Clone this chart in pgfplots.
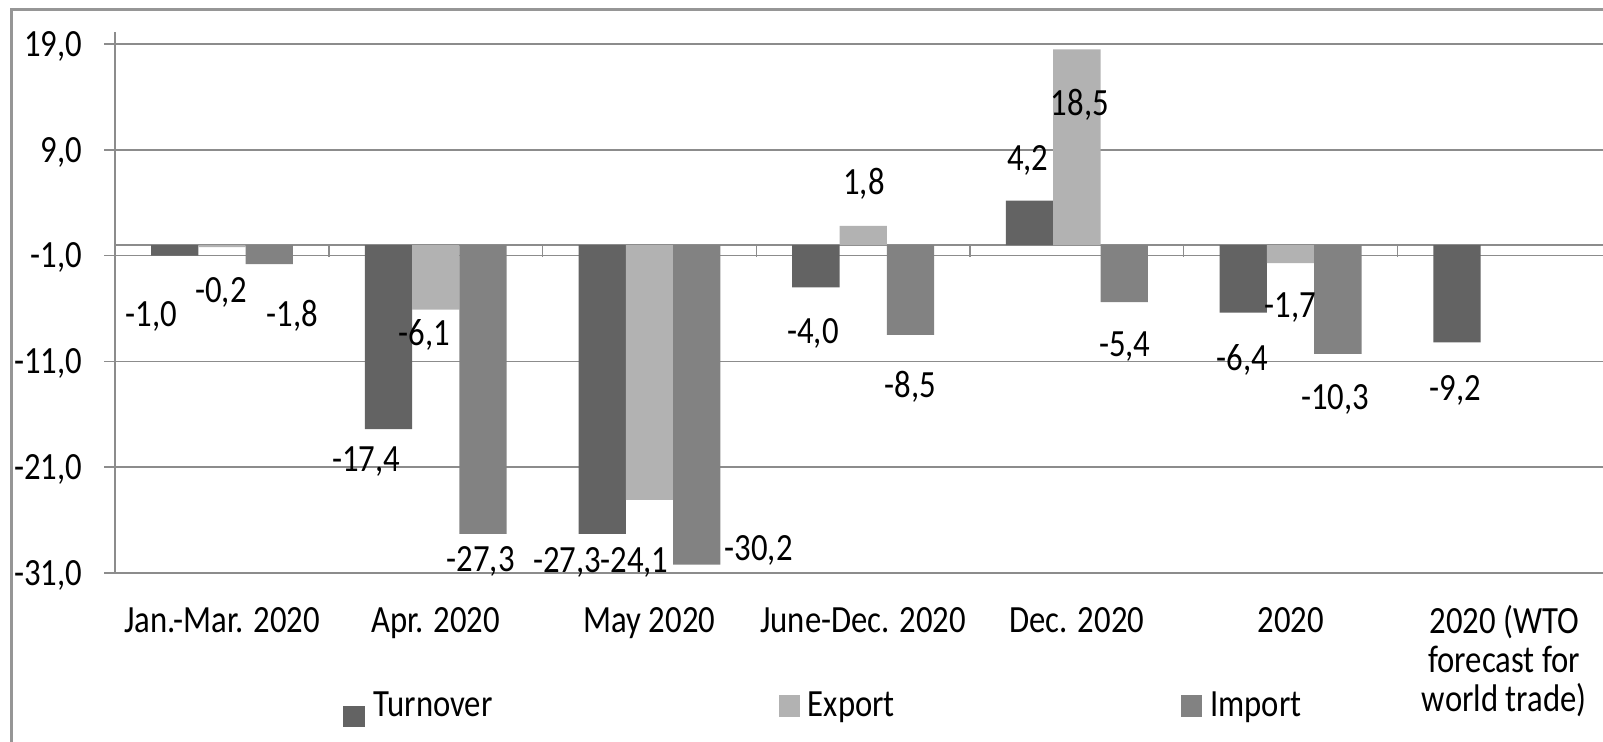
\documentclass[border=0pt]{standalone}
\usepackage{fontspec}
\setmainfont{Carlito}[FakeStretch=0.85]
\usepackage{pgfplots}
\pgfplotsset{compat=1.18}
\definecolor{turn}{RGB}{99,99,99}
\definecolor{expo}{RGB}{178,178,178}
\definecolor{impo}{RGB}{130,130,130}
\definecolor{gridc}{RGB}{140,140,140}
\definecolor{framec}{RGB}{150,150,150}
\newcommand\lf{\fontsize{19.25pt}{19.3pt}\selectfont}
\tikzset{lab/.style={font=\lf, anchor=base, inner sep=0pt, yshift=-6.1pt}}
\begin{document}
\begin{tikzpicture}
\useasboundingbox (0,0) rectangle (801.5pt,371pt);
\draw[framec, line width=1.5pt] (5.5pt,-5pt) -- (5.5pt,366pt) -- (810pt,366pt);
\begin{axis}[
  at={(57.6pt,84.5pt)}, anchor=south west,
  scale only axis, width=743.7pt, height=270.3pt,
  xmin=-0.5, xmax=6.46, ymin=-31, ymax=20.1,
  clip=false,
  ybar=0pt, bar width=0.2213,
  axis y line*=left, axis x line*=bottom,
  x axis line style={draw=none},
  y axis line style={gridc, line width=0.75pt, -},
  xtick={0,...,6},
  xticklabels={Jan.-Mar. 2020, Apr. 2020, May 2020, June-Dec. 2020, Dec. 2020, 2020, {2020 (WTO\\forecast for\\world trade)}},
  x tick style={draw=none},
  ytick={-31,-21,-11,-1,9,19},
  yticklabels={{-31,0},{-21,0},{-11,0},{-1,0},{9,0},{19,0}},
  y tick style={gridc, line width=0.75pt},
  tick align=outside, major tick length=5.35pt,
  ymajorgrids, grid style={gridc, line width=0.75pt},
  typeset ticklabels with strut,
  xticklabel style={font=\lf, align=center, anchor=north, inner sep=0pt, yshift=-10.8pt},
  yticklabel style={font=\lf, anchor=base east, inner sep=0pt, xshift=-10.9pt, yshift=-6.1pt},
  legend columns=3,
  legend style={at={(0.153,-0.2547)}, anchor=west, draw=none, fill=none, inner sep=0pt, font=\lf,
    nodes={inner sep=0pt, text depth=0pt, text height=11pt},
    /tikz/every even column/.append style={column sep=143pt},
    /tikz/every odd column/.append style={column sep=4.2pt}},
]
\draw[gridc, line width=0.75pt] (axis cs:-0.5,0) -- (axis cs:6.46,0);
\addplot[fill=turn, draw=none, legend image code/.code={\fill[turn] (0pt,-5.5pt) rectangle (10.5pt,5.5pt);}]
  coordinates {(0,-1.0) (1,-17.4) (2,-27.3) (3,-4.0) (4,4.2) (5,-6.4) (6,-9.2)};
\addlegendentry{Turnover}
\addplot[fill=expo, draw=none, legend image code/.code={\fill[expo] (0pt,-5.5pt) rectangle (10.5pt,5.5pt);}]
  coordinates {(0,-0.2) (1,-6.1) (2,-24.1) (3,1.8) (4,18.5) (5,-1.7)};
\addlegendentry{Export}
\addplot[fill=impo, draw=none, legend image code/.code={\fill[impo] (0pt,-5.5pt) rectangle (10.5pt,5.5pt);}]
  coordinates {(0,-1.8) (1,-27.3) (2,-30.2) (3,-8.5) (4,-5.4) (5,-10.3)};
\addlegendentry{Import}
\draw[gridc, line width=0.75pt] (axis cs:0.5,0) -- (axis cs:0.5,-1.15);
\draw[gridc, line width=0.75pt] (axis cs:1.5,0) -- (axis cs:1.5,-1.15);
\draw[gridc, line width=0.75pt] (axis cs:2.5,0) -- (axis cs:2.5,-1.15);
\draw[gridc, line width=0.75pt] (axis cs:3.5,0) -- (axis cs:3.5,-1.15);
\draw[gridc, line width=0.75pt] (axis cs:4.5,0) -- (axis cs:4.5,-1.15);
\draw[gridc, line width=0.75pt] (axis cs:5.5,0) -- (axis cs:5.5,-1.15);
\node[lab] at (axis cs:-0.332,-6.52) {-1,0};
\node[lab] at (axis cs:-0.005,-4.25) {-0,2};
\node[lab] at (axis cs:0.33,-6.52) {-1,8};
\node[lab] at (axis cs:0.674,-20.3) {-17,4};
\node[lab] at (axis cs:0.947,-8.35) {-6,1};
\node[lab] at (axis cs:1.21,-29.7) {-27,3};
\node[lab] at (axis cs:1.615,-29.8) {-27,3};
\node[lab] at (axis cs:1.93,-29.8) {-24,1};
\node[lab] at (axis cs:2.511,-28.7) {-30,2};
\node[lab] at (axis cs:2.765,-8.16) {-4,0};
\node[lab] at (axis cs:3.004,5.95) {1,8};
\node[lab] at (axis cs:3.22,-13.3) {-8,5};
\node[lab] at (axis cs:3.77,8.18) {4,2};
\node[lab] at (axis cs:4.014,13.4) {18,5};
\node[lab] at (axis cs:4.224,-9.41) {-5,4};
\node[lab] at (axis cs:4.775,-10.7) {-6,4};
\node[lab] at (axis cs:4.998,-5.67) {-1,7};
\node[lab] at (axis cs:5.208,-14.4) {-10,3};
\node[lab] at (axis cs:5.77,-13.5) {-9,2};
\end{axis}
\end{tikzpicture}
\end{document}
